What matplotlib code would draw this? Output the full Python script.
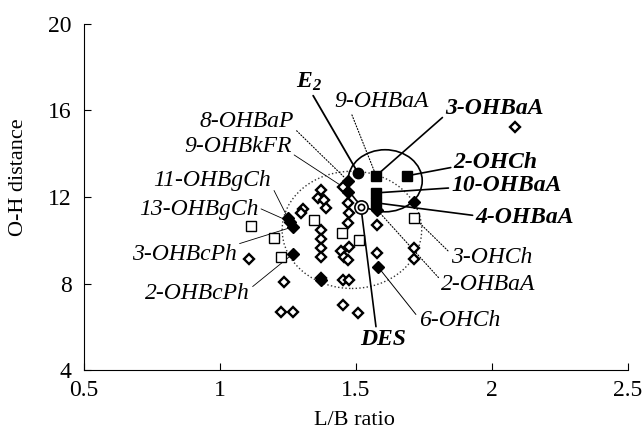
import matplotlib
matplotlib.use('Agg')
import matplotlib.pyplot as plt
from matplotlib.patches import Ellipse

plt.rcParams['font.family'] = ['Liberation Serif', 'DejaVu Serif']
plt.rcParams['mathtext.fontset'] = 'custom'
plt.rcParams['mathtext.bf'] = 'Liberation Serif:bold:italic'
plt.rcParams['mathtext.rm'] = 'Liberation Serif'

# open diamonds
od_x = [1.105, 1.234, 1.223, 1.268, 1.304, 1.297, 1.371, 1.360, 1.382, 1.389,
        1.371, 1.371, 1.371, 1.371, 1.371, 1.452, 1.474, 1.452, 1.507, 1.470,
        1.474, 1.470, 1.474, 1.445, 1.455, 1.470, 1.577, 1.577, 1.714, 1.714,
        2.083, 1.452]
od_y = [9.14, 8.07, 6.69, 6.69, 11.45, 11.27, 12.33, 11.96, 11.87, 11.5,
        10.48, 10.06, 9.65, 9.23, 8.26, 8.17, 8.17, 7.0, 6.64, 11.73,
        11.27, 10.8, 9.69, 9.5, 9.23, 9.09, 10.71, 9.42, 9.65, 9.14,
        15.25, 12.47]

# filled diamonds
fd_x = [1.470, 1.470, 1.249, 1.258, 1.268, 1.268, 1.371, 1.577, 1.714, 1.581]
fd_y = [12.75, 12.24, 11.04, 10.85, 10.62, 9.37, 8.17, 11.41, 11.78, 8.77]

# open squares
os_x = [1.113, 1.197, 1.223, 1.345, 1.448, 1.511, 1.714]
os_y = [10.67, 10.11, 9.23, 10.94, 10.34, 10.02, 11.04]

# filled squares
fs_x = [1.574, 1.688, 1.574, 1.574]
fs_y = [12.98, 12.98, 12.19, 11.73]

e2_x, e2_y = [1.507], [13.12]
des_x, des_y = [1.518], [11.55]

xticks = [0.5, 1, 1.5, 2, 2.5]
xticklabels = ['0.5', '1', '1.5', '2', '2.5']
yticks = [4, 8, 12, 16, 20]

series = {'od': (od_x, od_y), 'fd': (fd_x, fd_y), 'os': (os_x, os_y),
          'fs': (fs_x, fs_y), 'e2': (e2_x, e2_y), 'des': (des_x, des_y)}

# label, text x, text y, target (series, index), relpos, bold, linestyle, lw
labels = [
    (r'$\mathbf{E_2}$', 1.327, 17.33, ('e2', 0), (0.6, 0), True, '-', 1.3),
    ('9-OHBaA', 1.592, 16.41, ('fs', 0), (0.18, 0), False, ':', 0.8),
    ('3-OHBaA', 2.009, 16.08, ('fs', 0), (0, 0.2), True, '-', 1.2),
    ('2-OHCh', 2.013, 13.58, ('fs', 1), (0, 0.3), True, '-', 1.2),
    ('10-OHBaA', 2.053, 12.52, ('fs', 2), (0, 0.4), True, '-', 1.2),
    ('4-OHBaA', 2.12, 11.04, ('fs', 3), (0, 0.6), True, '-', 1.2),
    ('3-OHCh', 1.998, 9.19, ('os', 6), (0, 0.7), False, ':', 0.8),
    ('2-OHBaA', 1.987, 7.94, ('fd', 7), (0, 0.7), False, ':', 0.8),
    ('6-OHCh', 1.88, 6.31, ('fd', 9), (0, 0.6), False, '-', 0.7),
    ('DES', 1.60, 5.39, ('des', 0), (0.35, 1), True, '-', 1.2),
    ('8-OHBaP', 1.098, 15.48, ('fd', 0), (1, 0.2), False, ':', 0.8),
    ('9-OHBkFR', 1.065, 14.32, ('od', 31), (1, 0.2), False, '-', 0.6),
    ('11-OHBgCh', 0.972, 12.75, ('fd', 2), (1, 0.3), False, '-', 0.6),
    ('13-OHBgCh', 0.921, 11.41, ('fd', 3), (1, 0.6), False, '-', 0.6),
    ('3-OHBcPh', 0.869, 9.32, ('fd', 4), (1, 1), False, '-', 0.6),
    ('2-OHBcPh', 0.917, 7.56, ('fd', 5), (1, 0.7), False, '-', 0.6),
]

fig = plt.figure(figsize=(6.42, 4.36), dpi=100)
ax = fig.add_axes([84 / 642, 66 / 436, 544 / 642, 346 / 436])

# group ellipses
ax.add_patch(Ellipse((1.485, 10.48), 0.513, 5.42, fill=False, ls=':',
                     lw=1.0, ec='#333333', zorder=1))
ax.add_patch(Ellipse((1.607, 12.75), 0.273, 2.87, fill=False, ls='-',
                     lw=1.2, ec='k', zorder=1))

ax.plot(od_x, od_y, 'D', ms=5.3, mfc='white', mec='k', mew=1.7, ls='none', zorder=3)
ax.plot(os_x, os_y, 's', ms=7, mfc='white', mec='k', mew=1.0, ls='none', zorder=3)
ax.plot(fd_x, fd_y, 'D', ms=6, mfc='k', mec='k', mew=1.0, ls='none', zorder=4)
ax.plot(fs_x, fs_y, 's', ms=7, mfc='k', mec='k', ls='none', zorder=4)
ax.plot(e2_x, e2_y, 'o', ms=7.5, mfc='k', mec='k', ls='none', zorder=4)
ax.plot(des_x, des_y, 'o', ms=9.5, mfc='white', mec='k', mew=1.2, ls='none', zorder=4)
ax.plot(des_x, des_y, 'o', ms=4.5, mfc='white', mec='k', mew=1.2, ls='none', zorder=4)

for txt, tx, ty, (key, i), rp, bold, ls, lw in labels:
    px, py = series[key][0][i], series[key][1][i]
    ax.annotate(txt, xy=(px, py), xytext=(tx, ty), textcoords='data',
                ha='center', va='center', fontsize=17, style='italic',
                weight='bold' if bold else 'normal',
                arrowprops=dict(arrowstyle='-', color='k', lw=lw, ls=ls,
                                shrinkA=0, shrinkB=3, relpos=rp),
                zorder=2)

ax.set_xlim(0.5, 2.5)
ax.set_ylim(4, 20)
ax.set_xticks(xticks)
ax.set_xticklabels(xticklabels)
ax.set_yticks(yticks)
ax.spines['top'].set_visible(False)
ax.spines['right'].set_visible(False)
ax.tick_params(axis='both', direction='in', length=5, labelsize=17)
ax.tick_params(axis='x', pad=7)
ax.tick_params(axis='y', pad=9)
ax.set_xlabel('L/B ratio', fontsize=16)
ax.set_ylabel('O-H distance', fontsize=16)
ax.xaxis.set_label_coords(0.498, -0.118)
ax.yaxis.set_label_coords(-0.103, 0.558)

fig.savefig('out.png', dpi=100)
